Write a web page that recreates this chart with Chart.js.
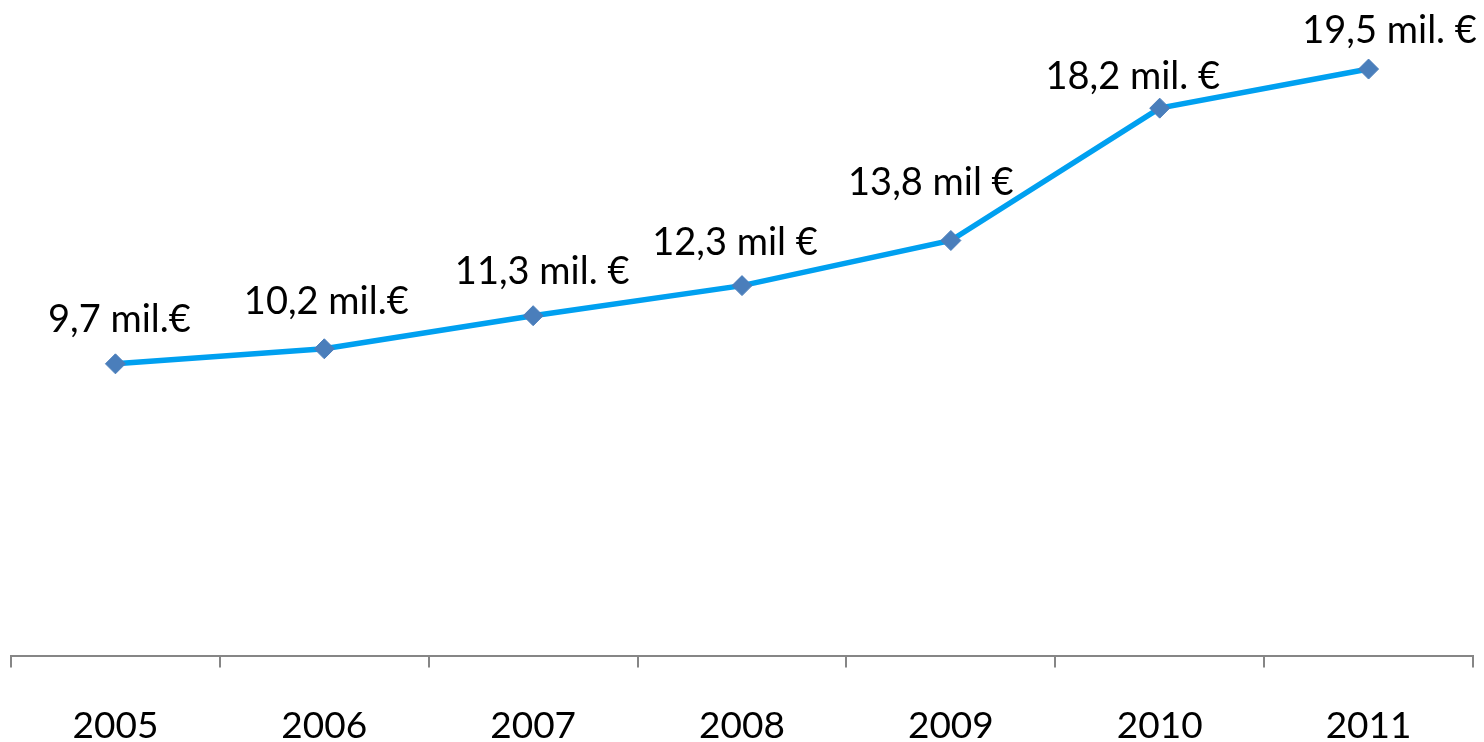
<!DOCTYPE html>
<html lang="en">
<head>
    <meta charset="UTF-8">
    <title>Revenue 2005-2011</title>
    <script src="https://cdn.jsdelivr.net/npm/chart.js"></script>
    <style>
        body {
            margin: 0;
            background: #ffffff;
        }
        .chart-container {
            width: 1484px;
            height: 742px;
        }
    </style>
</head>
<body>
<div class="chart-container">
    <canvas id="lineChart"></canvas>
</div>

<script>
    const years = ['2005', '2006', '2007', '2008', '2009', '2010', '2011'];
    const values = [9.7, 10.2, 11.3, 12.3, 13.8, 18.2, 19.5];
    const valueLabels = ['9,7 mil.€', '10,2 mil.€', '11,3 mil. €', '12,3 mil €', '13,8 mil €', '18,2 mil. €', '19,5 mil. €'];

    // labels were dragged around by hand in the original, so nudge each one
    const labelShift = [[4, -44], [2, -47], [9, -44], [-7, -43], [-20, -58], [-27, -31], [21, -38]];

    const pointLabels = {
        id: 'pointLabels',
        afterDatasetsDraw(chart) {
            const ctx = chart.ctx;
            const meta = chart.getDatasetMeta(0);
            ctx.save();
            ctx.font = '38px Lato, "Open Sans", sans-serif';
            ctx.fillStyle = '#000000';
            ctx.textAlign = 'center';
            ctx.textBaseline = 'middle';
            meta.data.forEach((pt, i) => {
                const [dx, dy] = labelShift[i];
                ctx.fillText(valueLabels[i], pt.x + dx, pt.y + dy);
            });
            ctx.restore();
        }
    };

    new Chart(document.getElementById('lineChart').getContext('2d'), {
        type: 'line',
        data: {
            labels: years,
            datasets: [{
                data: values,
                borderColor: '#00a0f0',
                borderWidth: 5.5,
                tension: 0,
                pointStyle: 'rectRot',
                pointRadius: 10,
                pointHoverRadius: 10,
                pointBackgroundColor: '#4a7ebb',
                pointBorderColor: '#4a7ebb',
                pointBorderWidth: 1,
                clip: false
            }]
        },
        options: {
            responsive: true,
            maintainAspectRatio: false,
            animation: false,
            layout: { padding: { left: 10, right: 11, top: 0, bottom: -42 } },
            plugins: {
                legend: { display: false },
                tooltip: { enabled: false }
            },
            scales: {
                x: {
                    offset: true,
                    grid: {
                        offset: true,
                        drawOnChartArea: false,
                        tickLength: 12,
                        color: '#868686',
                        lineWidth: 2
                    },
                    border: { display: true, color: '#868686', width: 2 },
                    ticks: {
                        color: '#000000',
                        font: { family: 'Lato, "Open Sans", sans-serif', size: 37 },
                        padding: 36,
                        maxRotation: 0
                    }
                },
                y: {
                    display: false,
                    min: 0,
                    max: 21.43
                }
            }
        },
        plugins: [pointLabels]
    });
</script>
</body>
</html>
